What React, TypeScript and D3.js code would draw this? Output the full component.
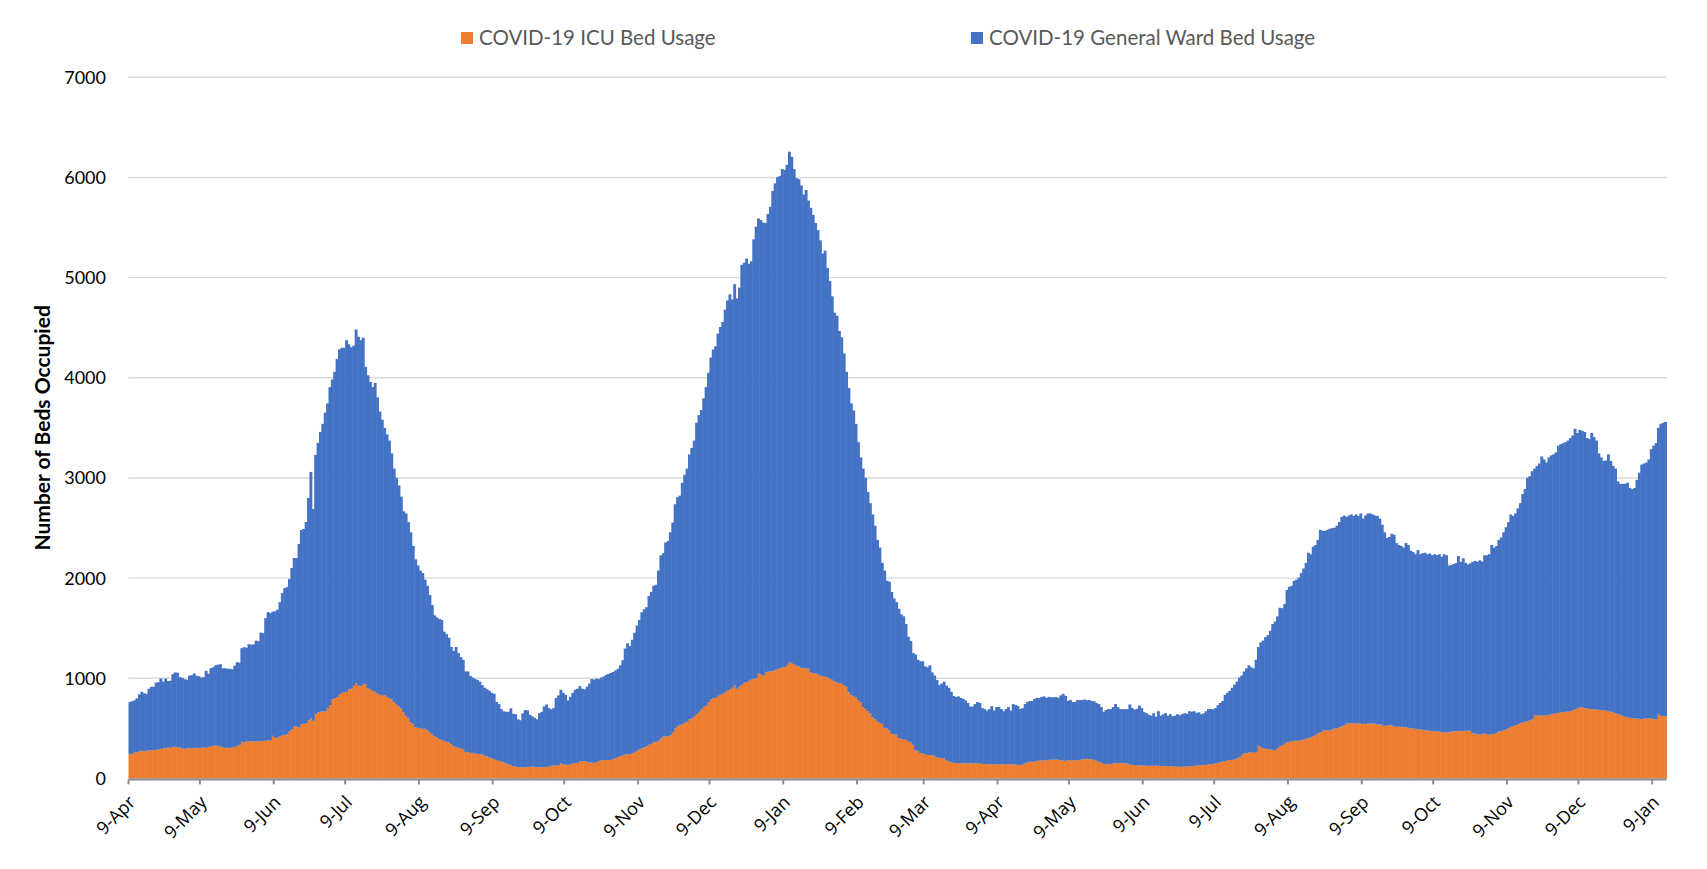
import React from "react";
import * as d3 from "d3";

// First day of the daily series (9 April 2020)
const startDate = new Date(2020, 3, 9);

// COVID-19 ICU beds occupied, one value per day from 9-Apr-2020
const icuBeds: number[] = [
  244, 245, 265, 262, 270, 275, 270, 278, 280, 280,
  282, 285, 290, 295, 300, 300, 310, 305, 315, 315,
  310, 310, 300, 295, 300, 305, 300, 305, 305, 305,
  305, 310, 305, 315, 320, 325, 330, 325, 320, 310,
  305, 305, 305, 310, 315, 325, 335, 365, 360, 370,
  370, 370, 370, 370, 372, 372, 375, 375, 380, 380,
  425, 405, 410, 420, 430, 435, 440, 470, 490, 520,
  520, 510, 540, 545, 550, 580, 600, 575, 640, 660,
  665, 668, 670, 700, 730, 790, 800, 810, 840, 855,
  860, 865, 890, 895, 925, 950, 930, 920, 945, 940,
  900, 890, 870, 865, 850, 835, 830, 830, 815, 800,
  790, 760, 740, 720, 700, 660, 625, 600, 560, 540,
  510, 505, 500, 495, 495, 480, 460, 440, 420, 410,
  390, 385, 375, 365, 360, 340, 320, 315, 305, 300,
  290, 265, 260, 255, 255, 250, 245, 240, 240, 225,
  220, 210, 200, 195, 185, 175, 170, 160, 150, 140,
  132, 122, 118, 115, 112, 112, 110, 112, 115, 117,
  115, 112, 112, 112, 115, 115, 120, 125, 128, 130,
  132, 150, 140, 137, 135, 140, 148, 153, 155, 170,
  173, 172, 165, 158, 158, 155, 162, 175, 180, 183,
  183, 183, 185, 190, 205, 214, 220, 234, 238, 240,
  244, 250, 265, 275, 290, 300, 310, 320, 336, 345,
  361, 365, 376, 400, 417, 420, 422, 430, 458, 500,
  524, 535, 539, 555, 565, 590, 600, 620, 640, 665,
  690, 715, 727, 760, 790, 800, 805, 825, 835, 845,
  860, 875, 890, 905, 930, 895, 920, 935, 956, 960,
  975, 985, 995, 1000, 1048, 1040, 1027, 1058, 1065, 1068,
  1070, 1084, 1090, 1100, 1109, 1110, 1134, 1160, 1150, 1140,
  1125, 1119, 1105, 1099, 1100, 1095, 1060, 1050, 1048, 1040,
  1025, 1022, 1015, 1007, 1000, 985, 966, 960, 950, 946,
  930, 916, 860, 834, 820, 810, 780, 760, 712, 695,
  670, 650, 610, 590, 570, 555, 545, 505, 498, 480,
  445, 440, 437, 400, 395, 387, 385, 370, 360, 336,
  280, 270, 254, 250, 240, 234, 234, 230, 225, 210,
  205, 203, 200, 180, 168, 165, 155, 153, 153, 150,
  155, 150, 152, 150, 148, 150, 152, 148, 145, 142,
  145, 142, 140, 142, 142, 140, 142, 142, 140, 143,
  142, 140, 138, 135, 132, 140, 150, 160, 168, 165,
  170, 175, 178, 180, 178, 182, 185, 188, 186, 190,
  185, 180, 178, 176, 180, 184, 180, 182, 180, 185,
  190, 192, 195, 192, 190, 185, 175, 165, 158, 145,
  142, 145, 140, 150, 155, 152, 150, 155, 150, 148,
  140, 135, 132, 130, 132, 130, 128, 127, 125, 127,
  125, 128, 127, 125, 123, 122, 124, 122, 120, 118,
  118, 117, 117, 118, 120, 122, 120, 125, 128, 130,
  132, 134, 136, 140, 142, 145, 150, 155, 160, 170,
  173, 178, 183, 185, 190, 200, 210, 234, 250, 254,
  260, 258, 256, 265, 326, 315, 300, 295, 295, 290,
  285, 282, 300, 320, 330, 346, 360, 366, 372, 376,
  375, 376, 380, 388, 397, 400, 410, 422, 435, 448,
  460, 478, 478, 480, 478, 490, 498, 500, 510, 519,
  530, 549, 550, 552, 549, 548, 550, 546, 544, 544,
  548, 546, 549, 548, 540, 539, 535, 524, 528, 534,
  530, 520, 514, 518, 514, 512, 510, 505, 500, 498,
  495, 490, 488, 485, 480, 478, 476, 473, 472, 470,
  466, 463, 460, 458, 460, 468, 468, 470, 473, 472,
  473, 475, 478, 476, 450, 448, 440, 438, 445, 448,
  440, 437, 440, 445, 455, 468, 470, 480, 490, 500,
  515, 524, 530, 539, 550, 560, 565, 570, 580, 590,
  636, 626, 630, 626, 630, 626, 635, 641, 645, 651,
  655, 661, 660, 665, 668, 671, 680, 692, 700, 712,
  710, 702, 700, 692, 692, 690, 687, 685, 682, 680,
  676, 671, 665, 661, 650, 641, 635, 626, 615, 610,
  605, 600, 600, 598, 595, 590, 598, 600, 600, 598,
  596, 590, 641, 625, 620, 620,
];

// Total beds occupied (ICU + general ward), one value per day from 9-Apr-2020
const totalBeds: number[] = [
  763, 770, 780, 800, 840, 865, 850, 845, 895, 915,
  915, 956, 960, 997, 966, 997, 972, 975, 1040, 1058,
  1055, 1010, 1005, 990, 985, 1027, 1030, 1048, 1025, 1020,
  1007, 1010, 1075, 1045, 1100, 1110, 1130, 1135, 1140, 1100,
  1100, 1095, 1095, 1090, 1125, 1160, 1155, 1300, 1310, 1305,
  1340, 1335, 1338, 1375, 1370, 1455, 1450, 1600, 1660, 1650,
  1665, 1668, 1685, 1760, 1850, 1900, 1910, 1990, 2100, 2200,
  2200, 2340, 2480, 2490, 2560, 2800, 3060, 2690, 3230, 3350,
  3460, 3540, 3652, 3744, 3907, 3983, 4059, 4187, 4283, 4299,
  4299, 4375, 4334, 4304, 4320, 4482, 4410, 4375, 4400, 4110,
  4024, 3958, 3907, 3948, 3805, 3663, 3581, 3500, 3434, 3373,
  3245, 3093, 3001, 2925, 2813, 2666, 2645, 2559, 2457, 2320,
  2187, 2126, 2075, 2050, 1984, 1923, 1831, 1730, 1628, 1607,
  1592, 1582, 1465, 1440, 1404, 1312, 1272, 1312, 1251, 1211,
  1185, 1068, 1068, 1022, 1007, 992, 982, 966, 931, 905,
  890, 875, 855, 844, 763, 742, 692, 670, 665, 665,
  700, 645, 641, 590, 580, 650, 682, 680, 636, 620,
  605, 590, 651, 665, 720, 738, 702, 690, 702, 804,
  829, 885, 855, 834, 778, 814, 855, 885, 895, 921,
  895, 890, 916, 946, 992, 987, 997, 992, 1007, 1017,
  1033, 1043, 1053, 1063, 1078, 1094, 1129, 1180, 1297, 1348,
  1322, 1384, 1455, 1526, 1582, 1658, 1689, 1709, 1821, 1862,
  1923, 1933, 2075, 2228, 2248, 2355, 2370, 2457, 2554, 2737,
  2808, 2823, 2951, 3032, 3093, 3235, 3300, 3373, 3551, 3627,
  3678, 3795, 3907, 4049, 4202, 4283, 4314, 4441, 4507, 4558,
  4680, 4772, 4833, 4782, 4935, 4792, 4900, 5128, 5148, 5189,
  5138, 5163, 5382, 5509, 5590, 5575, 5550, 5545, 5636, 5707,
  5865, 5941, 6003, 6013, 6084, 6074, 6125, 6257, 6206, 6084,
  5993, 5983, 5921, 5830, 5875, 5769, 5697, 5626, 5545, 5474,
  5372, 5240, 5270, 5097, 4965, 4813, 4650, 4619, 4467, 4405,
  4243, 4059, 3897, 3744, 3673, 3540, 3357, 3205, 3093, 3001,
  2859, 2747, 2635, 2523, 2381, 2304, 2152, 2075, 1974, 1964,
  1862, 1796, 1760, 1694, 1638, 1618, 1541, 1414, 1373, 1251,
  1236, 1185, 1170, 1170, 1119, 1109, 1129, 1058, 1027, 982,
  931, 946, 966, 926, 905, 865, 824, 814, 819, 804,
  794, 778, 753, 717, 717, 742, 763, 753, 702, 692,
  677, 692, 722, 677, 712, 712, 692, 671, 692, 712,
  677, 742, 733, 722, 692, 702, 742, 763, 773, 773,
  794, 804, 804, 814, 819, 804, 814, 810, 810, 812,
  804, 829, 844, 824, 773, 783, 763, 763, 783, 780,
  783, 788, 780, 783, 773, 770, 753, 742, 712, 666,
  682, 692, 692, 712, 742, 712, 692, 692, 690, 692,
  738, 702, 687, 695, 727, 702, 661, 651, 636, 626,
  651, 616, 671, 626, 641, 651, 626, 641, 620, 626,
  641, 630, 641, 651, 645, 671, 665, 671, 655, 660,
  641, 650, 671, 692, 692, 690, 702, 730, 753, 773,
  834, 855, 875, 905, 936, 966, 1007, 1027, 1068, 1099,
  1129, 1109, 1099, 1185, 1312, 1358, 1376, 1410, 1430, 1475,
  1541, 1567, 1618, 1704, 1699, 1740, 1882, 1913, 1923, 1974,
  1984, 2004, 2050, 2096, 2152, 2253, 2238, 2315, 2330, 2381,
  2482, 2472, 2472, 2482, 2493, 2498, 2503, 2523, 2559, 2610,
  2625, 2610, 2625, 2635, 2620, 2635, 2620, 2645, 2594, 2625,
  2645, 2645, 2635, 2625, 2620, 2594, 2533, 2457, 2401, 2411,
  2442, 2432, 2350, 2330, 2320, 2304, 2350, 2330, 2274, 2259,
  2238, 2279, 2238, 2248, 2253, 2238, 2245, 2228, 2238, 2228,
  2238, 2213, 2238, 2228, 2126, 2130, 2140, 2150, 2220, 2162,
  2198, 2152, 2136, 2147, 2162, 2172, 2162, 2177, 2165, 2228,
  2228, 2238, 2330, 2304, 2320, 2381, 2406, 2457, 2508, 2559,
  2635, 2620, 2645, 2696, 2747, 2839, 2889, 3001, 3017, 3067,
  3093, 3118, 3144, 3215, 3184, 3154, 3205, 3225, 3235, 3255,
  3322, 3337, 3347, 3357, 3373, 3398, 3423, 3490, 3449, 3480,
  3469, 3459, 3398, 3388, 3449, 3408, 3373, 3245, 3205, 3169,
  3174, 3235, 3169, 3118, 3093, 2966, 2941, 2941, 2941, 2951,
  2900, 2889, 2900, 2981, 3052, 3133, 3144, 3154, 3184, 3286,
  3322, 3347, 3500, 3540, 3551, 3560,
];

const tickLabels = [
  "9-Apr", "9-May", "9-Jun", "9-Jul", "9-Aug", "9-Sep", "9-Oct", "9-Nov",
  "9-Dec", "9-Jan", "9-Feb", "9-Mar", "9-Apr", "9-May", "9-Jun", "9-Jul",
  "9-Aug", "9-Sep", "9-Oct", "9-Nov", "9-Dec", "9-Jan",
];
const yTicks = [0, 1000, 2000, 3000, 4000, 5000, 6000, 7000];
const seriesKeys = ["icu", "ward"];
const seriesNames = ["COVID-19 ICU Bed Usage", "COVID-19 General Ward Bed Usage"];
const seriesColors = ["#ED7D31", "#4472C4"];
const yAxisTitle = "Number of Beds Occupied";

const W = 1707;
const H = 869;
const M = { left: 128.5, right: 1666.5, top: 77.3, bottom: 778.4 };

export default function App() {
  const n = totalBeds.length;
  const dates = d3.range(n).map((i) => d3.timeDay.offset(startDate, i));
  const wardBeds = totalBeds.map((t, i) => t - icuBeds[i]);
  const rows = dates.map((d, i) => ({ t: d.getTime(), icu: icuBeds[i], ward: wardBeds[i] }));

  const x = d3
    .scaleBand<number>()
    .domain(rows.map((r) => r.t))
    .range([M.left, M.right])
    .paddingInner(0)
    .paddingOuter(0);
  const y = d3.scaleLinear().domain([0, 7000]).range([M.bottom, M.top]);
  const bw = x.bandwidth();

  const stacked = d3.stack<any>().keys(seriesKeys)(rows);

  const tickDates = tickLabels.map((_, i) => d3.timeMonth.offset(startDate, i));

  const legendItems = [
    { x: 461, label: seriesNames[0], color: seriesColors[0] },
    { x: 971, label: seriesNames[1], color: seriesColors[1] },
  ];

  return (
    <svg
      width={W}
      height={H}
      style={{ position: "absolute", left: 0, top: 0, background: "#fff" }}
    >
      <rect width={W} height={H} fill="#ffffff" />
      {/* gridlines */}
      {yTicks.map((v) => (
        <line
          key={"g" + v}
          x1={M.left}
          x2={M.right}
          y1={y(v)}
          y2={y(v)}
          stroke="#d9d9d9"
          strokeWidth={1.4}
        />
      ))}
      {/* bars */}
      {stacked.map((s, si) => (
        <g key={"s" + si} fill={seriesColors[si]}>
          {s.map((d: any, i: number) => (
            <rect
              key={i}
              x={x(d.data.t) as number}
              y={y(d[1])}
              width={bw + 0.5}
              height={Math.max(0, y(d[0]) - y(d[1]))}
            />
          ))}
        </g>
      ))}
      {/* x axis */}
      <line x1={M.left} x2={M.right} y1={M.bottom + 1} y2={M.bottom + 1} stroke="#8c8c8c" strokeWidth={2} />
      {tickDates.map((td, i) => {
        const tx = x(td.getTime()) as number;
        return (
          <g key={"t" + i}>
            <line x1={tx} x2={tx} y1={M.bottom + 1} y2={M.bottom + 6} stroke="#8c8c8c" strokeWidth={2} />
            <text
              transform={`translate(${tx + 8},${M.bottom + 25}) rotate(-45)`}
              textAnchor="end"
              fontFamily="'Open Sans', sans-serif"
              fontSize={18}
              fill="#000"
            >
              {tickLabels[i]}
            </text>
          </g>
        );
      })}
      {/* y tick labels */}
      {yTicks.map((v) => (
        <text
          key={"y" + v}
          x={106}
          y={y(v)}
          dy="0.36em"
          textAnchor="end"
          fontFamily="Lato, sans-serif"
          fontSize={18}
          fill="#000"
        >
          {v}
        </text>
      ))}
      {/* y axis title */}
      <text
        transform={`translate(42,${(M.top + M.bottom) / 2}) rotate(-90)`}
        textAnchor="middle"
        dy="0.36em"
        fontFamily="Lato, sans-serif"
        fontWeight="bold"
        fontSize={21}
        fill="#000"
      >
        {yAxisTitle}
      </text>
      {/* legend */}
      {legendItems.map((it, i) => (
        <g key={"l" + i}>
          <rect x={it.x} y={32} width={12} height={12} fill={it.color} />
          <text
            x={it.x + 18}
            y={45}
            fontFamily="Lato, sans-serif"
            fontSize={20.5}
            fill="#595959"
          >
            {it.label}
          </text>
        </g>
      ))}
    </svg>
  );
}
